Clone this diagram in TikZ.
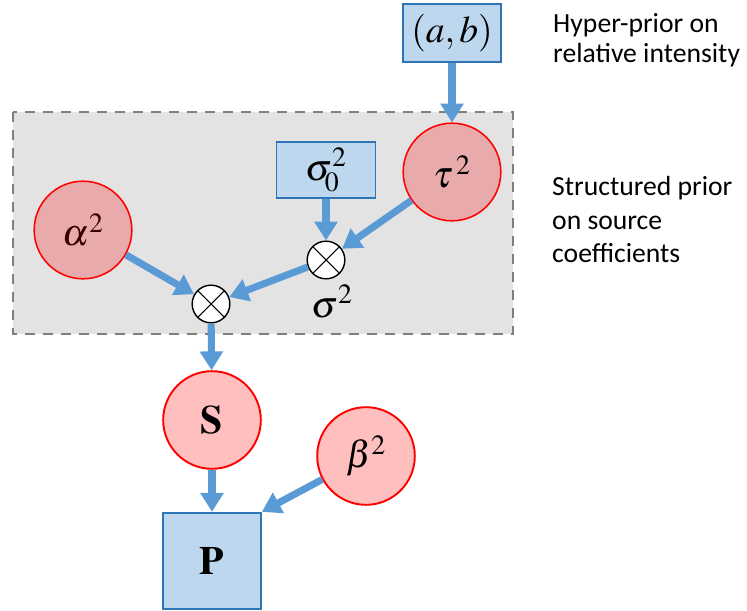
\documentclass[tikz,border=0pt]{standalone}
\usepackage{mathptmx}
\usepackage[no-math]{fontspec}
\newfontfamily\labfont{Carlito}
\usetikzlibrary{arrows.meta}
\definecolor{boxfill}{HTML}{BDD7EE}
\definecolor{boxline}{HTML}{2E75B6}
\definecolor{arrowblue}{HTML}{5B9BD5}
\definecolor{pinkA}{HTML}{E8AAAA}
\definecolor{pinkB}{HTML}{FFBFBF}
\definecolor{redline}{HTML}{FF0000}
\definecolor{panelfill}{HTML}{E3E3E3}
\definecolor{panelline}{HTML}{7F7F7F}
\definecolor{alphatext}{HTML}{3A0000}
\tikzset{
  bluebox/.style={draw=boxline, fill=boxfill, line width=1.3pt, inner sep=0pt},
  darkcirc/.style={circle, draw=redline, fill=pinkA, line width=1.3pt, minimum size=83pt, inner sep=0pt},
  lightcirc/.style={circle, draw=redline, fill=pinkB, line width=1.6pt, minimum size=83pt, inner sep=0pt},
  prodnode/.style={circle, draw=black, fill=white, line width=1.2pt, minimum size=32pt, inner sep=0pt},
  conn/.style={draw=arrowblue, line width=6pt, -{Triangle[width=19pt,length=16pt]}},
  bigmath/.style={font=\fontsize{32}{34}\selectfont},
  sidelabel/.style={font=\labfont\fontsize{23.5}{26}\selectfont, anchor=base west, inner sep=0pt}
}
\begin{document}
\begin{tikzpicture}[x=0.85pt, y=-0.85pt]
\useasboundingbox (0,0) rectangle (747,611);
% panel
\draw[fill=panelfill, draw=panelline, line width=2pt, dash pattern=on 8.5pt off 6.8pt] (13,112) rectangle (513,334);

% nodes
\node[bluebox, minimum width=83pt, minimum height=49pt, bigmath] (ab) at (452,33) {$(a,b)$};
\node[darkcirc, bigmath] (tau) at (452,172) {$\tau^{\,2}$};
\node[bluebox, minimum width=84pt, minimum height=48pt, bigmath] (s0) at (326,170) {$\sigma_{\!0}^{2}$};
\node[darkcirc, bigmath, text=alphatext] (alpha) at (83,230) {$\alpha^{2}$};
\node[prodnode] (o1) at (326,260) {};
\node[prodnode] (o2) at (211,304) {};
\node[bigmath, anchor=base, inner sep=0pt] (sig) at (332,317) {$\sigma^{2}$};
\node[lightcirc, font=\fontsize{34}{36}\selectfont] (S) at (212,420) {$\mathbf{S}$};
\node[lightcirc, bigmath] (beta) at (366,456) {$\beta^{2}$};
\node[bluebox, line width=1.7pt, minimum width=83pt, minimum height=82pt, font=\fontsize{34}{36}\selectfont] (P) at (212,561) {$\mathbf{P}$};

% crosses in product nodes
\foreach \o in {o1,o2}{
  \draw[line width=0.9pt] (\o.45) -- (\o.225) (\o.135) -- (\o.-45);
}

% connectors
\draw[conn] (ab) -- (tau);
\draw[conn] (s0) -- (o1);
\draw[conn] (tau) -- (o1);
\draw[conn] (o1) -- (o2);
\draw[conn] (alpha) -- (o2);
\draw[conn] (o2) -- (S);
\draw[conn] (S) -- (P);
\draw[conn] (beta) -- (P.north east);

% side labels
\node[sidelabel] (h1) at (553,33) {Hyper-prior on};
\node[sidelabel] (h2) at (553,63) {relative intensity};
\node[sidelabel] (t1) at (552,196) {Structured prior};
\node[sidelabel] (t2) at (552,229) {on source};
\node[sidelabel] (t3) at (552,262) {coefficients};
\end{tikzpicture}
\end{document}
